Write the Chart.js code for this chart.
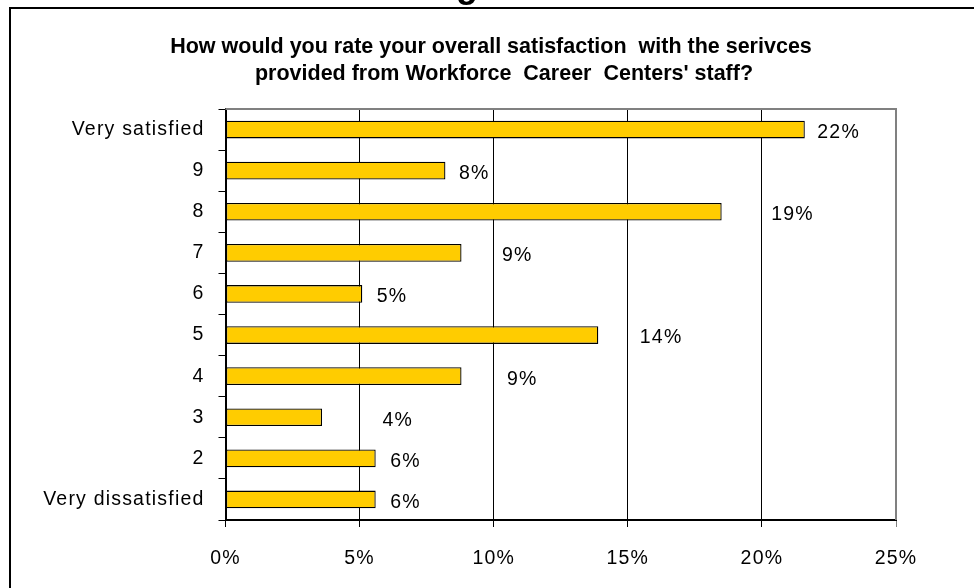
<!DOCTYPE html>
<html>
<head>
<meta charset="utf-8">
<title>Satisfaction with Workforce Career Centers' staff</title>
<script src="https://cdn.jsdelivr.net/npm/chart.js@4.4.1/dist/chart.umd.min.js"></script>
<style>
  html, body { margin: 0; padding: 0; background: #fff; }
  canvas { display: block; }
</style>
</head>
<body>
<canvas id="satisfactionChart" width="974" height="588"></canvas>
<script>
// rating categories, top to bottom
const ratings = ['Very satisfied', '9', '8', '7', '6', '5', '4', '3', '2', 'Very dissatisfied'];
// share of respondents (%)
const shares = [21.6, 8.2, 18.5, 8.8, 5.1, 13.9, 8.8, 3.6, 5.6, 5.6];
const xTicks = [0, 5, 10, 15, 20, 25];
const titleLines = [
    'How would you rate your overall satisfaction  with the serivces',
    'provided from Workforce  Career  Centers\' staff?'
];

const FONT = 'Arial, "Liberation Sans", sans-serif';
const TEXT_SIZE = 19.5;
const TEXT_SPACING = '1.2px';

// extra nudge (px) for the value labels, some sit further out from their bar
const labelShift = [-1, 0, 36, 27, 1, 28, 32, 47, 1, 1];

// outer frame, the tail of the sheet heading above it, and the chart title
const framePlugin = {
    id: 'frame',
    beforeDraw(chart) {
        const ctx = chart.ctx;
        ctx.save();
        ctx.strokeStyle = '#000';
        ctx.lineWidth = 2;
        ctx.beginPath();
        ctx.moveTo(10, 600);
        ctx.lineTo(10, 8);
        ctx.lineTo(980, 8);
        ctx.stroke();

        ctx.fillStyle = '#000';
        ctx.textAlign = 'center';
        ctx.textBaseline = 'alphabetic';
        ctx.font = 'bold 36px ' + FONT;
        ctx.fillText('g', 467, -3);

        ctx.font = 'bold 21.5px ' + FONT;
        ctx.fillText(titleLines[0], 491, 53);
        ctx.fillText(titleLines[1], 504, 80);
        ctx.restore();

        // the axis and value text in this chart is set slightly loose
        ctx.letterSpacing = TEXT_SPACING;
    }
};

// grey top/right edge of the plot area
const plotEdgePlugin = {
    id: 'plotEdge',
    beforeDatasetsDraw(chart) {
        const { ctx, chartArea: a } = chart;
        ctx.save();
        ctx.strokeStyle = '#808080';
        ctx.lineWidth = 2;
        ctx.beginPath();
        ctx.moveTo(a.left, a.top);
        ctx.lineTo(a.right, a.top);
        ctx.lineTo(a.right, a.bottom);
        ctx.stroke();
        ctx.restore();
    }
};

// percentage labels to the right of each bar
const valueLabelPlugin = {
    id: 'valueLabels',
    afterDatasetsDraw(chart) {
        const ctx = chart.ctx;
        const meta = chart.getDatasetMeta(0);
        ctx.save();
        ctx.fillStyle = '#000';
        ctx.font = TEXT_SIZE + 'px ' + FONT;
        ctx.letterSpacing = TEXT_SPACING;
        ctx.textAlign = 'left';
        ctx.textBaseline = 'middle';
        meta.data.forEach((bar, i) => {
            const v = chart.data.datasets[0].data[i];
            ctx.fillText(Math.round(v) + '%', bar.x + 13.5 + labelShift[i], bar.y + 3);
        });
        ctx.restore();
    }
};

const ctx = document.getElementById('satisfactionChart').getContext('2d');
new Chart(ctx, {
    type: 'bar',
    data: {
        labels: ratings,
        datasets: [{
            data: shares,
            backgroundColor: '#FFCC00',
            borderColor: '#000',
            borderWidth: 1.3,
            borderSkipped: false,
            categoryPercentage: 1,
            barPercentage: 0.43
        }]
    },
    options: {
        indexAxis: 'y',
        responsive: false,
        animation: false,
        layout: { padding: { left: 0, right: 78, top: 109, bottom: 0 } },
        plugins: {
            legend: { display: false },
            tooltip: { enabled: false },
            title: { display: false }
        },
        scales: {
            x: {
                min: 0,
                max: 25,
                afterBuildTicks(scale) {
                    scale.ticks = xTicks.map(v => ({ value: v }));
                },
                afterFit(scale) { scale.height = 68; },
                border: { color: '#000', width: 2 },
                grid: {
                    color: c => (c.tick && c.tick.value === 25 ? '#808080' : '#000'),
                    lineWidth: 1,
                    tickLength: 7
                },
                ticks: {
                    color: '#000',
                    padding: 20,
                    font: { family: FONT, size: TEXT_SIZE },
                    callback: v => v + '%'
                }
            },
            y: {
                afterFit(scale) { scale.width = 225.5; },
                border: { color: '#000', width: 2 },
                grid: {
                    offset: true,
                    drawOnChartArea: false,
                    color: '#000',
                    tickLength: 7
                },
                ticks: {
                    color: '#000',
                    padding: 14,
                    font: { family: FONT, size: TEXT_SIZE }
                }
            }
        }
    },
    plugins: [framePlugin, plotEdgePlugin, valueLabelPlugin]
});
</script>
</body>
</html>
